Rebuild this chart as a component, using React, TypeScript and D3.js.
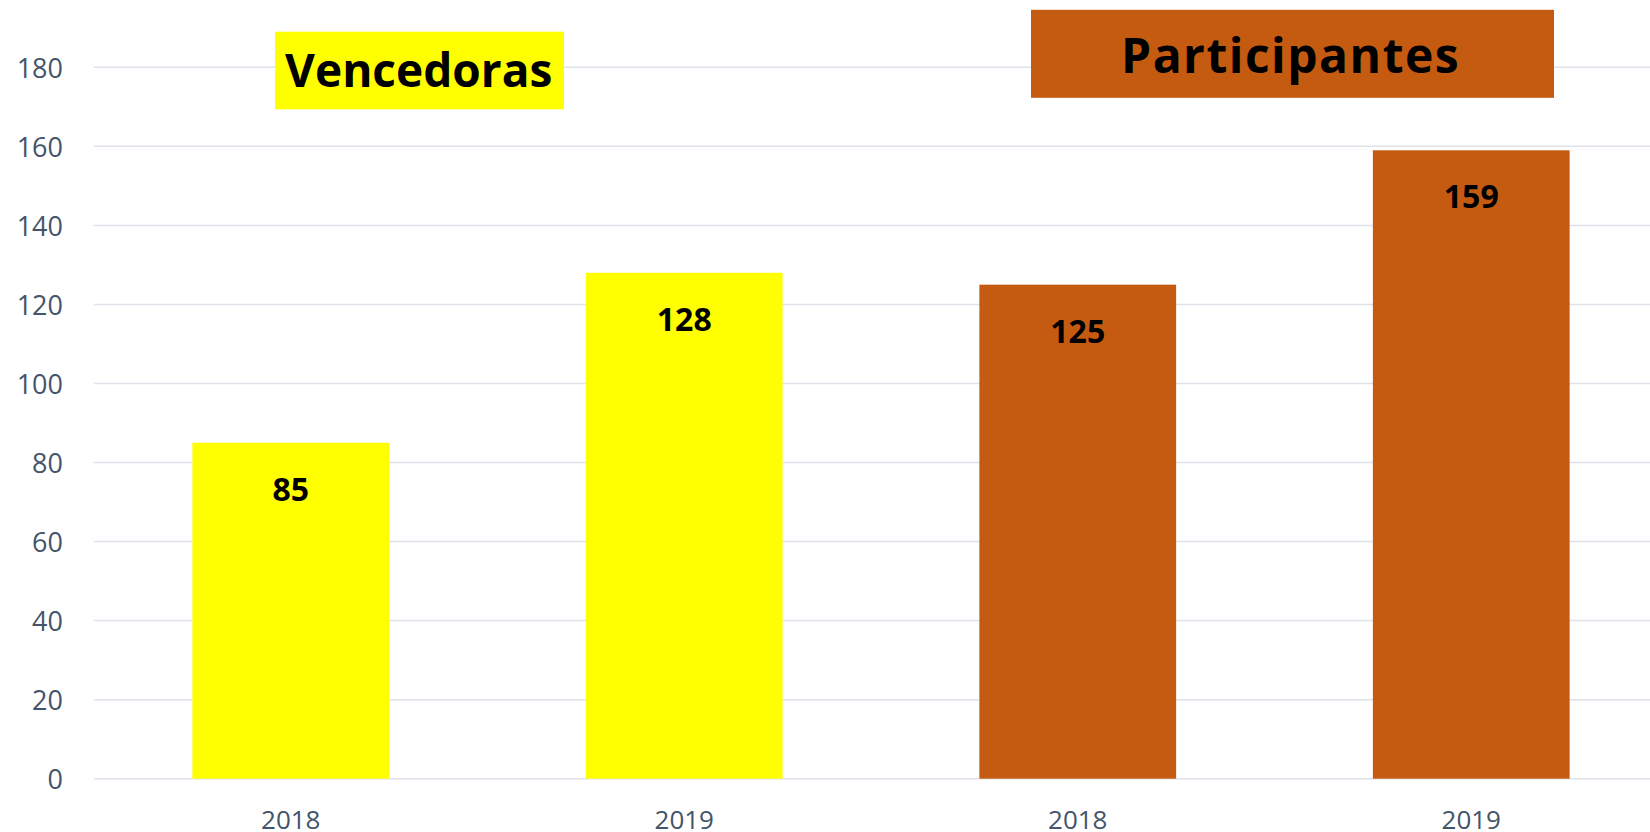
import React from "react";
import * as d3 from "d3";

const categories = ["V2018", "V2019", "P2018", "P2019"];
const yearLabels = ["2018", "2019", "2018", "2019"];
const values = [85, 128, 125, 159];
const barColors = ["#FFFF00", "#FFFF00", "#C55A11", "#C55A11"];
const yTicks = [0, 20, 40, 60, 80, 100, 120, 140, 160, 180];

const W = 1650;
const H = 832;
const FONT = "'Open Sans', 'Noto Sans', sans-serif";

export default function App() {
  const x = d3.scaleBand<string>().domain(categories).range([94, 1668]).paddingInner(0.5).paddingOuter(0.25);
  const y = d3.scaleLinear().domain([0, 180]).range([778.7, 67.3]);
  const bw = x.bandwidth();
  return (
    <svg width={W} height={H} style={{ position: "absolute", left: 0, top: 0, background: "#fff" }}>
      <rect x={0} y={0} width={W} height={H} fill="#ffffff" />
      {yTicks.map((t) => (
        <g key={t}>
          <line x1={94} x2={W} y1={y(t)} y2={y(t)} stroke="#DEE2E9" strokeWidth={1.5} />
          <text x={63} y={y(t) + 10.4} textAnchor="end" fontFamily={FONT} fontSize={27} fill="#44546A">
            {t}
          </text>
        </g>
      ))}
      {categories.map((c, i) => (
        <g key={c}>
          <rect x={x(c)!} y={y(values[i])} width={bw} height={y(0) - y(values[i])} fill={barColors[i]} />
          <text
            x={x(c)! + bw / 2}
            y={y(values[i]) + 58}
            textAnchor="middle"
            fontFamily={FONT}
            fontWeight="bold"
            fontSize={32}
            fill="#000"
          >
            {values[i]}
          </text>
          <text x={x(c)! + bw / 2} y={829.3} textAnchor="middle" fontFamily={FONT} fontSize={26} fill="#44546A">
            {yearLabels[i]}
          </text>
        </g>
      ))}
      <rect x={275} y={31.7} width={289} height={77.6} fill="#FFFF00" />
      <text x={418.7} y={86.7} textAnchor="middle" fontFamily={FONT} fontWeight="bold" fontSize={46} fill="#000">
        Vencedoras
      </text>
      <rect x={1031} y={9.8} width={523} height={88} fill="#C55A11" />
      <text
        x={1290.6}
        y={72.7}
        textAnchor="middle"
        fontFamily={FONT}
        fontWeight="bold"
        fontSize={48}
        letterSpacing={1.5}
        fill="#000"
      >
        Participantes
      </text>
    </svg>
  );
}
